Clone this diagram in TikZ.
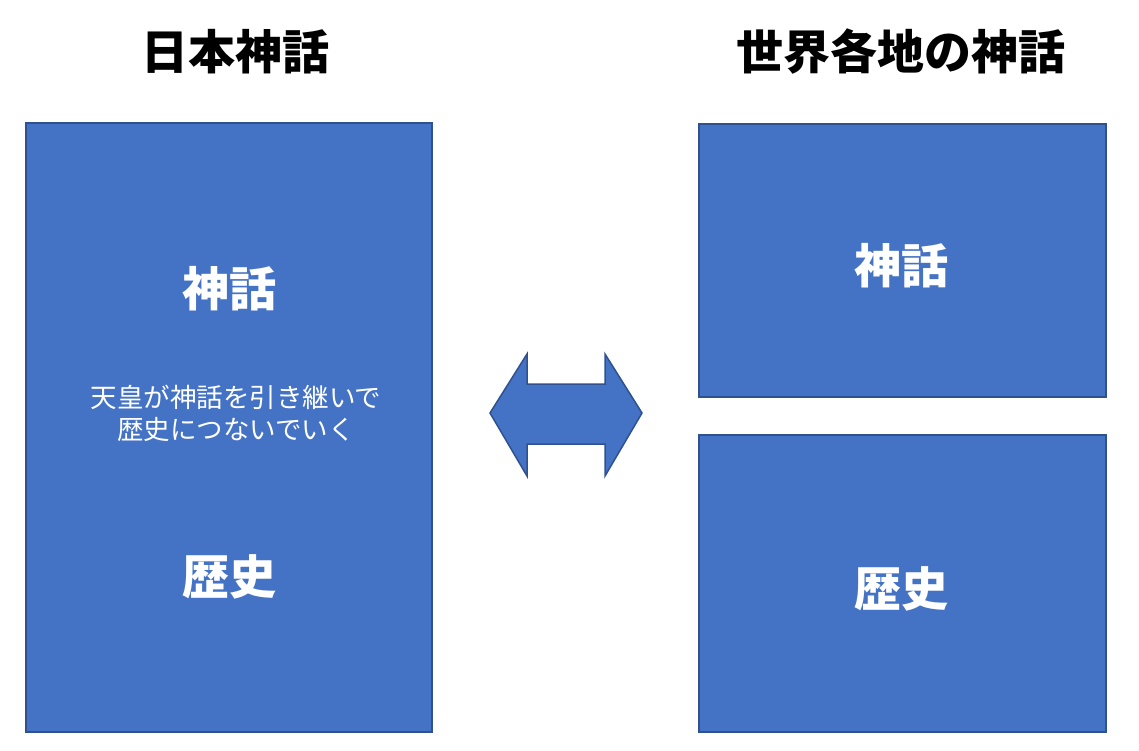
\documentclass[tikz,border=0pt]{standalone}
\usepackage{fontspec}
\newfontfamily\cjk{Noto Sans CJK JP}
\definecolor{boxfill}{HTML}{4472C4}
\definecolor{boxline}{HTML}{2F528F}
\begin{document}
\begin{tikzpicture}[x=1pt,y=-1pt,
  panel/.style={draw=boxline,fill=boxfill,line width=1.5pt},
  title/.style={font=\cjk\bfseries\fontsize{47}{52}\selectfont,text=black,inner sep=0pt},
  big/.style={font=\cjk\bfseries\fontsize{47}{52}\selectfont,text=white,inner sep=0pt},
  small/.style={font=\cjk\fontsize{26.5}{32}\selectfont,text=white,inner sep=0pt,align=center}]
\useasboundingbox (0,0) rectangle (1139,750);
\fill[white] (0,0) rectangle (1139,750);
% panels
\draw[panel] (26,123) rectangle (432,732);
\draw[panel] (699,124) rectangle (1106,397);
\draw[panel] (699,435) rectangle (1106,732);
% titles
\node[title] (t1) at (235,52) {日本神話};
\node[title] (t2) at (901,52) {世界各地の神話};
% left texts
\node[big] (l1) at (229,289) {神話};
\node[small] (l2) at (236,413) {天皇が神話を引き継いで\\歴史につないでいく};
\node[big] (l3) at (229,577) {歴史};
% right texts
\node[big] (r1) at (901,266) {神話};
\node[big] (r2) at (901,589) {歴史};
% double arrow
\draw[panel] (490,413) -- (527,354) -- (527,384) -- (605,384) -- (605,354) -- (642,413)
  -- (605,476) -- (605,444) -- (527,444) -- (527,476) -- cycle;
\end{tikzpicture}
\end{document}
